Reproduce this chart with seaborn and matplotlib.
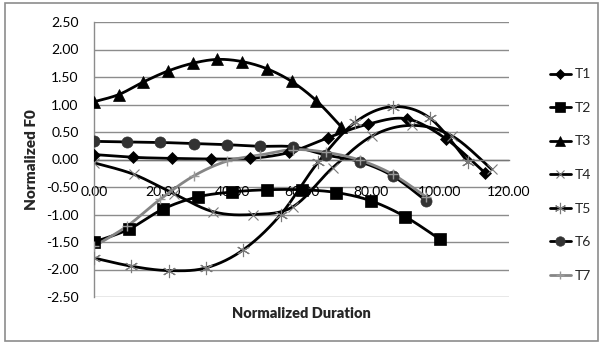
import numpy as np
import matplotlib
matplotlib.use("Agg")
import matplotlib.pyplot as plt
from matplotlib import font_manager
from matplotlib.lines import Line2D
from matplotlib.patches import Rectangle
import seaborn as sns

# ---- data: normalized F0 contours of the seven tones ----
t1_x = [0.0, 11.3, 22.6, 33.9, 45.2, 56.5, 67.8, 79.1, 90.4, 101.7, 113.0]
t1_y = [0.09, 0.04, 0.02, 0.01, 0.02, 0.13, 0.40, 0.64, 0.74, 0.38, -0.24]

t2_x = [0.0, 10.0, 20.0, 30.0, 40.0, 50.0, 60.0, 70.0, 80.0, 90.0, 100.0]
t2_y = [-1.50, -1.27, -0.90, -0.68, -0.59, -0.55, -0.55, -0.60, -0.75, -1.04, -1.45]

t3_x = [0.0, 7.14, 14.29, 21.43, 28.57, 35.71, 42.86, 50.0, 57.14, 64.29, 71.43]
t3_y = [1.05, 1.18, 1.41, 1.61, 1.75, 1.82, 1.78, 1.65, 1.42, 1.07, 0.60]

t4_x = [0.0, 11.5, 23.0, 34.5, 46.0, 57.5, 69.0, 80.5, 92.0, 103.5, 115.0]
t4_y = [-0.06, -0.27, -0.62, -0.95, -1.00, -0.86, -0.15, 0.43, 0.62, 0.43, -0.18]

t5_x = [0.0, 10.8, 21.6, 32.4, 43.2, 54.0, 64.8, 75.6, 86.4, 97.2, 108.0]
t5_y = [-1.79, -1.94, -2.02, -1.97, -1.64, -1.00, -0.05, 0.68, 0.96, 0.75, -0.04]

t6_x = [0.0, 9.6, 19.2, 28.8, 38.4, 48.0, 57.6, 67.2, 76.8, 86.4, 96.0]
t6_y = [0.33, 0.32, 0.31, 0.29, 0.27, 0.24, 0.23, 0.08, -0.04, -0.30, -0.75]

t7_x = [0.0, 9.6, 19.2, 28.8, 38.4, 48.0, 57.6, 67.2, 76.8, 86.4, 96.0]
t7_y = [-1.58, -1.21, -0.72, -0.30, -0.03, 0.08, 0.18, 0.13, -0.01, -0.27, -0.68]

series_names = ["T1", "T2", "T3", "T4", "T5", "T6", "T7"]
x_ticks = [0, 20, 40, 60, 80, 100, 120]
y_ticks = [-2.5, -2.0, -1.5, -1.0, -0.5, 0.0, 0.5, 1.0, 1.5, 2.0, 2.5]

# ---- fonts ----
sns.set_theme(style="white")
available = {f.name for f in font_manager.fontManager.ttflist}
family = "Liberation Sans Narrow" if "Liberation Sans Narrow" in available else "Lato"
plt.rcParams["font.family"] = [family, "DejaVu Sans"]


def smooth_path(xs, ys, n=24):
    """Smoothed Bezier path through the points (spreadsheet-style smoothing)."""
    p = np.column_stack([xs, ys]).astype(float)
    ext = np.vstack([p[0], p, p[-1]])
    t = np.linspace(0, 1, n)[:, None]
    parts = []
    for i in range(1, len(ext) - 2):
        p0, p1, p2, p3 = ext[i - 1], ext[i], ext[i + 1], ext[i + 2]
        c1 = p1 + (p2 - p0) / 6.0
        c2 = p2 - (p3 - p1) / 6.0
        seg = ((1 - t) ** 3) * p1 + 3 * ((1 - t) ** 2) * t * c1 \
            + 3 * (1 - t) * (t ** 2) * c2 + (t ** 3) * p2
        parts.append(seg if i == 1 else seg[1:])
    path = np.vstack(parts)
    return path[:, 0], path[:, 1]


styles = [
    dict(color="black", marker="D", ms=6, mfc="black", mec="black", mew=0.5),
    dict(color="black", marker="s", ms=8, mfc="black", mec="black", mew=0.5),
    dict(color="black", marker="^", ms=8, mfc="black", mec="black", mew=0.5),
    dict(color="black", marker="x", ms=7.5, mfc="none", mec="#7a7a7a", mew=0.8),
    dict(color="black", marker=(6, 2, 0), ms=9.5, mfc="none", mec="#7a7a7a", mew=0.8),
    dict(color="black", marker="o", ms=8, mfc="#333333", mec="#333333", mew=0.5),
    dict(color="#858585", marker="+", ms=7.5, mfc="none", mec="#9a9a9a", mew=1.0),
]

xs_all = [t1_x, t2_x, t3_x, t4_x, t5_x, t6_x, t7_x]
ys_all = [t1_y, t2_y, t3_y, t4_y, t5_y, t6_y, t7_y]

W, H = 601, 348
fig = plt.figure(figsize=(W / 100, H / 100), dpi=100)
fig.patch.set_facecolor("white")
ax = fig.add_axes([94 / W, 1 - 297 / H, (509 - 94) / W, (297 - 22) / H])
ax.set_facecolor("white")

# horizontal gridlines
for yv in y_ticks:
    ax.axhline(yv, color="#8c8c8c", lw=1.0, zorder=0)

handles = []
for name, xs, ys, st in zip(series_names, xs_all, ys_all, styles):
    sx, sy = smooth_path(xs, ys)
    sns.lineplot(x=sx, y=sy, sort=False, estimator=None, ax=ax,
                 color=st["color"], lw=2.0, zorder=2)
    ax.plot(xs, ys, ls="none", marker=st["marker"], ms=st["ms"],
            mfc=st["mfc"], mec=st["mec"], mew=st["mew"], zorder=3)
    handles.append(Line2D([0], [0], color=st["color"], lw=2.0,
                          marker=st["marker"], ms=st["ms"] * 0.85,
                          mfc=st["mfc"], mec=st["mec"], mew=st["mew"]))

ax.set_xlim(0, 120)
ax.set_ylim(-2.5, 2.5)

# axes: category axis crossing at zero
for s in ["top", "right"]:
    ax.spines[s].set_visible(False)
ax.spines["left"].set_color("#8c8c8c")
ax.spines["left"].set_linewidth(1.0)
ax.spines["bottom"].set_position(("data", 0))
ax.spines["bottom"].set_color("#777777")
ax.spines["bottom"].set_linewidth(1.0)

ax.set_xticks(x_ticks)
ax.set_xticklabels([f"{v:.2f}" for v in x_ticks])
ax.set_yticks(y_ticks)
ax.set_yticklabels([f"{v:.2f}" for v in y_ticks])
ax.tick_params(axis="x", length=0, pad=19, labelsize=10, colors="black")
ax.tick_params(axis="y", length=0, pad=11, labelsize=10, colors="black")
ax.grid(False)

fig.text(301 / W, 1 - 313 / H, "Normalized Duration", ha="center", va="center",
         fontsize=10.5, fontweight="heavy")
fig.text(31 / W, 1 - 160 / H, "Normalized F0", ha="center", va="center",
         rotation=90, fontsize=11, fontweight="heavy")

fig.legend(handles, series_names, loc="center left",
           bbox_to_anchor=(550 / W, 1 - 175 / H), frameon=False,
           fontsize=10, labelspacing=1.55, handlelength=1.5,
           handletextpad=0.3, borderpad=0, borderaxespad=0)

# chart-area border
fig.add_artist(Rectangle((5 / W, 1 - 341 / H), (598 - 5) / W, (341 - 3) / H,
                         transform=fig.transFigure, fill=False,
                         edgecolor="#8c8c8c", lw=1.2))

fig.savefig("out.png", dpi=100, facecolor="white")
